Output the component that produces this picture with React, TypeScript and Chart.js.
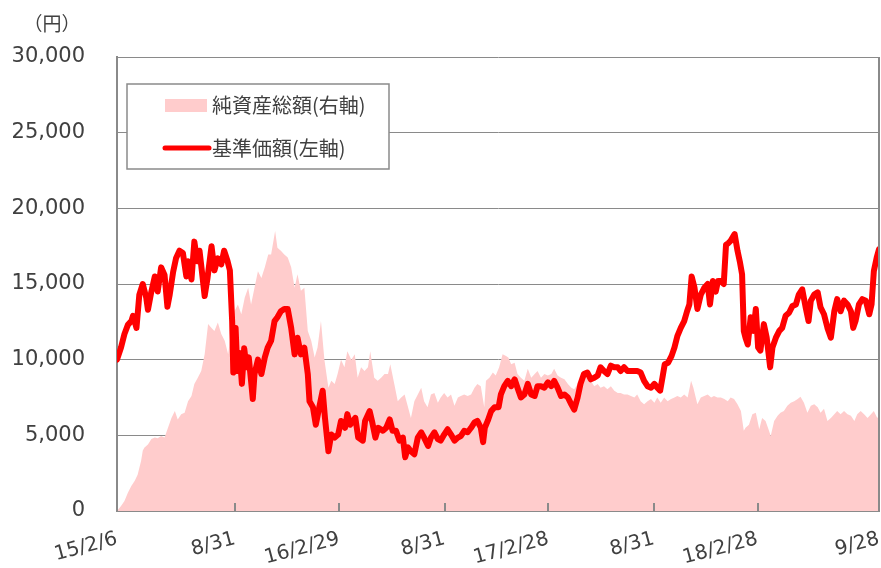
import React, { useEffect, useRef } from "react";
import { Chart, registerables } from "chart.js";

Chart.register(...registerables);

// x tick positions (days since 2015/2/6) and labels
const tickDays = [0, 206, 388, 572, 753, 937, 1118, 1330];
const tickLabels = ["15/2/6", "8/31", "16/2/29", "8/31", "17/2/28", "8/31", "18/2/28", "9/28"];

// 基準価額 (left axis, 円)
const navDays = [
  0, 7, 13, 19, 25, 28, 34, 39, 45, 51, 54, 60, 66, 71, 77, 83, 88, 92, 98, 103, 109, 115, 121, 124, 130, 135, 140, 144, 148, 153, 158, 165, 170, 176, 182, 187, 193, 197, 201, 203, 207, 210, 214, 218, 222, 226, 230, 234, 237, 240, 246, 252, 258,
  263, 269, 275, 280, 286, 292, 298, 304, 310, 315, 321, 327, 333, 336, 342, 347, 353, 359, 363, 369, 374, 380, 386, 391, 398, 402, 407, 416, 421, 429, 433, 441, 445, 451, 456, 464, 470, 476, 481, 487, 493, 499, 503, 508, 513, 519, 525, 531,
  536, 543, 548, 554, 560, 565, 571, 577, 583, 589, 595, 600, 606, 612, 618, 624, 629, 635, 639, 642, 647, 653, 659, 666, 670, 676, 682, 688, 694, 699, 705, 711, 717, 723, 729, 734, 740, 746, 752, 758, 763, 769, 775, 781, 787, 793, 798,
  804, 809, 815, 821, 827, 833, 839, 844, 850, 856, 862, 868, 874, 879, 885, 891, 897, 903, 908, 914, 920, 926, 932, 938, 943, 948, 952, 956, 962, 968, 973, 978, 984, 990, 995, 999, 1003, 1008, 1013, 1019, 1025, 1031, 1035, 1040, 1045, 1049, 1054, 1059, 1063, 1067,
  1071, 1078, 1083, 1087, 1091, 1094, 1097, 1101, 1106, 1111, 1115, 1119, 1123, 1129, 1134, 1140, 1144, 1150, 1156, 1161, 1167, 1173, 1179, 1185, 1190, 1196, 1202, 1207, 1211, 1217, 1223, 1228, 1234, 1240, 1246, 1252, 1257, 1263, 1269, 1275, 1281, 1285, 1289, 1295, 1301, 1307, 1313, 1317, 1321, 1326, 1330,
];
const navValues = [
  10000, 10800, 11700, 12300, 12550, 12900, 12100, 14300, 15000, 14100, 13300, 14500, 15500, 14500, 16100, 15600, 13500, 14300, 15800, 16700, 17200, 17050, 15500, 16500, 15300, 17800, 16500, 17200, 15900, 14200, 15400, 17500, 15900, 16700, 16300, 17200, 16500, 15900, 12550, 9150, 12100, 9250, 10450, 8400, 10750, 9500, 10150, 8600, 7400, 9050, 10000, 9050, 10150,
  10800, 11250, 12550, 12800, 13200, 13350, 13350, 12100, 10350, 11450, 10350, 10800, 9050, 7250, 6850, 5700, 6850, 7950, 6150, 3950, 5050, 4850, 5050, 5950, 5500, 6400, 5700, 6150, 4850, 4650, 5950, 6600, 5950, 4850, 5500, 5300, 5500, 6050, 5300, 5300, 4650, 4850, 3550, 4200, 3950, 3750, 4850, 5200,
  4850, 4300, 4850, 5200, 4750, 4650, 5050, 5400, 5050, 4650, 4850, 4950, 5300, 5200, 5500, 5850, 5950, 5500, 4550, 5500, 5950, 6600, 6850, 6850, 7700, 8250, 8600, 8250, 8700, 8150, 7500, 7700, 8400, 7700, 7600, 8250, 8250, 8150, 8500, 8250, 8600, 8150, 7600, 7700, 7500, 7050, 6700,
  7500, 8400, 9050, 9150, 8700, 8800, 8950, 9500, 9250, 9050, 9600, 9500, 9500, 9250, 9500, 9250, 9250, 9250, 9250, 9150, 8600, 8250, 8150, 8400, 8150, 7950, 8800, 9700, 9800, 10250, 10800, 11550, 12100, 12550, 13200, 13650, 15500, 14750, 13350, 14300, 14750, 15000, 13650, 15200, 14500, 15200, 15200, 15000, 17600, 17700,
  17850, 18300, 17200, 16500, 15650, 11900, 11450, 11000, 12800, 11900, 13350, 10800, 10600, 12350, 11450, 9500, 10800, 11450, 11900, 12100, 12900, 13100, 13550, 13650, 14300, 14650, 13450, 12550, 13900, 14300, 14450, 13450, 13000, 12100, 11450, 13200, 14000, 13200, 13900, 13650, 13200, 12100, 12550, 13650, 14000, 13900, 13000, 13650, 15850, 16750, 17300,
];

// 純資産総額 (right axis, hidden)
const assetDays = [
  0, 7, 13, 19, 25, 31, 36, 42, 45, 48, 54, 60, 66, 71, 77, 83, 89, 95, 101, 106, 112, 118, 124, 130, 135, 141, 147, 153, 159, 165, 170, 176, 182, 188, 194, 200, 205, 211, 217, 223, 229, 234, 240, 246, 252, 258, 264,
  269, 276, 280, 286, 292, 298, 304, 310, 315, 321, 327, 333, 339, 345, 350, 356, 362, 369, 374, 380, 385, 391, 397, 402, 409, 415, 420, 426, 432, 438, 442, 449, 455, 461, 467, 473, 477, 484, 490, 496, 502, 508, 513, 519, 525, 531,
  536, 542, 548, 554, 560, 565, 571, 577, 583, 589, 595, 600, 606, 612, 618, 624, 629, 635, 641, 644, 650, 656, 661, 667, 673, 679, 683, 688, 694, 699, 705, 711, 717, 723, 729, 734, 740, 746, 752, 758, 763, 769, 775, 781, 787, 793, 798,
  804, 809, 815, 821, 827, 833, 839, 844, 850, 856, 862, 868, 874, 879, 885, 891, 897, 903, 908, 914, 920, 926, 932, 938, 943, 949, 955, 961, 967, 973, 978, 984, 990, 996, 1002, 1006, 1013, 1019, 1025, 1031, 1037, 1042, 1048, 1054, 1060, 1066,
  1071, 1077, 1083, 1089, 1094, 1097, 1103, 1109, 1115, 1121, 1126, 1132, 1138, 1141, 1147, 1153, 1158, 1164, 1170, 1176, 1182, 1188, 1193, 1199, 1205, 1211, 1217, 1223, 1228, 1234, 1240, 1246, 1252, 1257, 1263, 1269, 1275, 1281, 1287, 1292, 1298, 1304, 1310, 1316, 1321, 1327, 1330,
];
const assetValues = [
  0, 330, 660, 1200, 1650, 2000, 2400, 3300, 4000, 4200, 4400, 4750, 4850, 4800, 4950, 4850, 5500, 6150, 6600, 6050, 6400, 6500, 7250, 7600, 8400, 8800, 9250, 10350, 12350, 12100, 11900, 12450, 11700, 11250, 10350, 12100, 13200, 13650, 13000, 14100, 14750, 13650, 14750, 15850, 15400, 16100, 16950,
  16950, 18500, 17400, 17200, 16950, 16750, 16100, 14750, 15650, 14550, 14750, 11900, 11250, 10150, 10800, 12550, 10000, 8150, 8600, 8400, 9050, 10000, 9500, 10550, 10000, 10350, 8800, 9500, 9250, 9500, 10550, 8800, 8600, 8800, 9050, 9050, 9700, 8400, 7250, 7500, 7700, 6850, 6150, 7250, 7700, 8150,
  7250, 6850, 7700, 7800, 7150, 7500, 7800, 7500, 7700, 6950, 7500, 7600, 7700, 7600, 7700, 8150, 8400, 8250, 6850, 8600, 8800, 9150, 8950, 9500, 10350, 10250, 10150, 9700, 9800, 9050, 8800, 8600, 9400, 8800, 9050, 9250, 8800, 9050, 8950, 9050, 9400, 8950, 8800, 8700, 8400, 8150, 8050,
  8400, 8600, 9250, 9150, 8600, 8250, 8400, 8150, 8250, 8050, 8250, 7950, 7800, 7800, 7700, 7700, 7600, 7500, 7700, 7250, 7050, 7250, 7400, 7150, 7500, 7150, 7500, 7250, 7400, 7500, 7600, 7500, 7700, 7500, 8600, 8150, 7050, 7500, 7600, 7700, 7500, 7600, 7500, 7500, 7400, 7250,
  7500, 7400, 7050, 6600, 5300, 5500, 5700, 6400, 6500, 5400, 6150, 5950, 5300, 4950, 5950, 6300, 6500, 6600, 6950, 7150, 7250, 7400, 7550, 7150, 6500, 6950, 7050, 6850, 6500, 6750, 5950, 6150, 6400, 6600, 6400, 6600, 6400, 6300, 5950, 6400, 6600, 6400, 6150, 6400, 6600, 6150, 6300,
];

const unitLabel = "（円）";
const assetLabel = "純資産総額(右軸)";
const navLabel = "基準価額(左軸)";

const GRID = "#8a8a8a";
const TEXT = "#404040";
const PINK = "#FFCCCC";
const RED = "#FF0000";
const CJK = '"Noto Sans CJK JP", "Noto Sans", sans-serif';

const decorPlugin = {
  id: "decor",
  afterDraw(chart: any) {
    const { ctx, chartArea: a, scales } = chart;
    ctx.save();
    // right border
    ctx.strokeStyle = GRID;
    ctx.lineWidth = 2;
    ctx.beginPath();
    ctx.moveTo(a.right, a.top);
    ctx.lineTo(a.right, a.bottom);
    ctx.stroke();
    // inward tick marks on the x axis
    ctx.beginPath();
    scales.x.ticks.forEach((t: any) => {
      const px = Math.round(scales.x.getPixelForValue(t.value));
      ctx.moveTo(px, a.bottom);
      ctx.lineTo(px, a.bottom - 8);
    });
    ctx.stroke();
    // unit label
    ctx.fillStyle = TEXT;
    ctx.font = `19px ${CJK}`;
    ctx.textAlign = "center";
    ctx.textBaseline = "middle";
    ctx.fillText(unitLabel, 52, 24);
    // legend box
    const bx = a.left + 10;
    const by = a.top + 27;
    const bw = 262;
    const bh = 85;
    ctx.fillStyle = "#ffffff";
    ctx.fillRect(bx, by, bw, bh);
    ctx.strokeStyle = GRID;
    ctx.lineWidth = 1.5;
    ctx.strokeRect(bx, by, bw, bh);
    // item 1: area swatch
    ctx.fillStyle = PINK;
    ctx.fillRect(bx + 38, by + 15, 42, 13);
    ctx.fillStyle = TEXT;
    ctx.font = `20px ${CJK}`;
    ctx.textAlign = "left";
    ctx.textBaseline = "middle";
    ctx.fillText(assetLabel, bx + 85, by + 21);
    // item 2: line swatch
    ctx.strokeStyle = RED;
    ctx.lineWidth = 5;
    ctx.lineCap = "round";
    ctx.beginPath();
    ctx.moveTo(bx + 38, by + 64);
    ctx.lineTo(bx + 82, by + 64);
    ctx.stroke();
    ctx.fillText(navLabel, bx + 85, by + 64);
    ctx.restore();
  },
};

export default function App() {
  const ref = useRef<HTMLCanvasElement | null>(null);

  useEffect(() => {
    if (!ref.current) return;
    const chart = new Chart(ref.current, {
      type: "line",
      data: {
        datasets: [
          {
            label: navLabel,
            data: navDays.map((d, i) => ({ x: d, y: navValues[i] })),
            borderColor: RED,
            backgroundColor: RED,
            borderWidth: 6,
            pointRadius: 0,
            tension: 0,
            fill: false,
            borderJoinStyle: "round",
            borderCapStyle: "round",
            yAxisID: "y",
            order: 1,
          },
          {
            label: assetLabel,
            data: assetDays.map((d, i) => ({ x: d, y: assetValues[i] })),
            borderColor: PINK,
            backgroundColor: PINK,
            borderWidth: 0,
            pointRadius: 0,
            tension: 0,
            fill: "origin",
            yAxisID: "y1",
            order: 2,
          },
        ],
      },
      options: {
        animation: false,
        responsive: false,
        maintainAspectRatio: false,
        layout: { padding: { left: 0, right: 2, top: 57, bottom: 0 } },
        plugins: {
          legend: { display: false },
          tooltip: { enabled: false },
        },
        scales: {
          x: {
            type: "linear",
            min: 0,
            max: 1330,
            afterBuildTicks: (s: any) => {
              s.ticks = tickDays.map((v) => ({ value: v }));
            },
            afterFit: (s: any) => {
              s.height = 57;
              s.paddingLeft = 0;
              s.paddingRight = 0;
            },
            grid: { display: true, drawOnChartArea: false, drawTicks: false },
            border: { display: true, color: GRID, width: 2 },
            ticks: {
              autoSkip: false,
              minRotation: 15,
              maxRotation: 15,
              padding: 16,
              color: TEXT,
              font: { family: "DejaVu Sans", size: 20 },
              callback: (_v: any, i: number) => tickLabels[i],
            },
          },
          y: {
            position: "left",
            min: 0,
            max: 30000,
            afterFit: (s: any) => {
              s.width = 117;
            },
            ticks: {
              stepSize: 5000,
              padding: 32,
              color: TEXT,
              font: { family: "DejaVu Sans", size: 21 },
              callback: (v: any) => Number(v).toLocaleString("en-US"),
            },
            grid: { color: GRID, lineWidth: 1, drawTicks: false },
            border: { display: true, color: GRID, width: 2 },
          },
          y1: {
            display: false,
            position: "right",
            min: 0,
            max: 30000,
            grid: { drawOnChartArea: false },
          },
        },
      },
      plugins: [decorPlugin],
    } as any);
    return () => chart.destroy();
  }, []);

  return (
    <div style={{ position: "absolute", left: 0, top: 0, width: 881, height: 568 }}>
      <canvas ref={ref} width={881} height={568} />
    </div>
  );
}
